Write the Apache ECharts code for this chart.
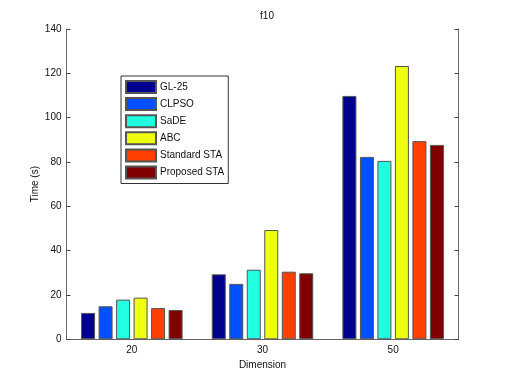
<!DOCTYPE html>
<html lang="en">
<head>
<meta charset="UTF-8" />
<title>f10</title>
<script src="https://cdn.jsdelivr.net/npm/echarts@6/dist/echarts.min.js"></script>
<style type="text/css">
html,body{margin:0;padding:0;background:#fff;}
#main{width:507px;height:382px;}
</style>
</head>
<body>
<div id="main"></div>
<script type="text/javascript">
// dimensions on the x axis
var dims = ['20', '30', '50'];
// run time per algorithm (s)
var gl25 = [11.9, 29.3, 109.8];
var clpso = [14.9, 25.0, 82.3];
var sade = [17.9, 31.4, 80.5];
var abc = [18.8, 49.3, 123.3];
var stdSta = [14.1, 30.5, 89.4];
var propSta = [13.2, 29.8, 87.7];
var names = ['GL-25', 'CLPSO', 'SaDE', 'ABC', 'Standard STA', 'Proposed STA'];
var colors = ['#00008f', '#0050ff', '#20ffdf', '#efff10', '#ff4000', '#800000'];
var yTicks = [0, 20, 40, 60, 80, 100, 120, 140];

var font = 'Liberation Sans, Arial, Helvetica, sans-serif';
var allData = [gl25, clpso, sade, abc, stdSta, propSta];
var series = [];
for (var i = 0; i < names.length; i++) {
	series.push({
		name: names[i],
		type: 'bar',
		data: allData[i],
		barWidth: 14,
		barGap: '25%',
		itemStyle: {
			color: colors[i],
			borderColor: '#555',
			borderWidth: 1
		}
	});
}

var myChart = echarts.init(document.getElementById('main'));
myChart.setOption({
	animation: false,
	title: {
		text: 'f10',
		left: 262,
		top: 6,
		textAlign: 'center',
		textStyle: {fontFamily: font, fontSize: 10, fontWeight: 'normal', color: '#111'}
	},
	legend: {
		orient: 'vertical',
		left: 121,
		top: 76,
		itemWidth: 30,
		itemHeight: 12,
		itemGap: 3.1,
		padding: [4, 4, 4, 4],
		borderColor: '#333',
		borderWidth: 1,
		backgroundColor: '#fff',
		icon: 'rect',
		textStyle: {fontFamily: font, fontSize: 10, color: '#111', padding: [0, 0, 0, -1]},
		data: names
	},
	grid: {left: 66.5, right: 48.5, top: 29, bottom: 42.7, containLabel: false},
	xAxis: [
		{
			type: 'category',
			data: dims,
			name: 'Dimension',
			nameLocation: 'middle',
			nameGap: 21,
			nameMoveOverlap: false,
			nameTextStyle: {fontFamily: font, fontSize: 10, color: '#111'},
			axisLine: {lineStyle: {color: '#000', width: 1}},
			axisTick: {inside: true, alignWithLabel: true, length: 4, lineStyle: {color: '#444'}},
			axisLabel: {fontFamily: font, fontSize: 10, color: '#111', margin: 6}
		},
		{
			type: 'category',
			data: dims,
			position: 'top',
			axisLine: {lineStyle: {color: '#666', width: 1}},
			axisTick: {inside: true, alignWithLabel: true, length: 4, lineStyle: {color: '#444'}},
			axisLabel: {show: false}
		}
	],
	yAxis: [
		{
			type: 'value',
			min: 0,
			max: 140,
			interval: 20,
			name: 'Time (s)',
			nameLocation: 'middle',
			nameGap: 26,
			nameMoveOverlap: false,
			nameTextStyle: {fontFamily: font, fontSize: 10, color: '#111'},
			axisLine: {show: true, lineStyle: {color: '#666', width: 1}},
			axisTick: {show: true, inside: true, length: 4, lineStyle: {color: '#444'}},
			splitLine: {show: false},
			axisLabel: {
				fontFamily: font, fontSize: 10, color: '#111', margin: 5,
				formatter: function (v) { return yTicks.indexOf(v) >= 0 ? String(v) : ''; }
			}
		},
		{
			type: 'value',
			min: 0,
			max: 140,
			interval: 20,
			position: 'right',
			axisLine: {show: true, lineStyle: {color: '#666', width: 1}},
			axisTick: {show: true, inside: true, length: 4, lineStyle: {color: '#444'}},
			splitLine: {show: false},
			axisLabel: {show: false}
		}
	],
	series: series
});
</script>
</body>
</html>
